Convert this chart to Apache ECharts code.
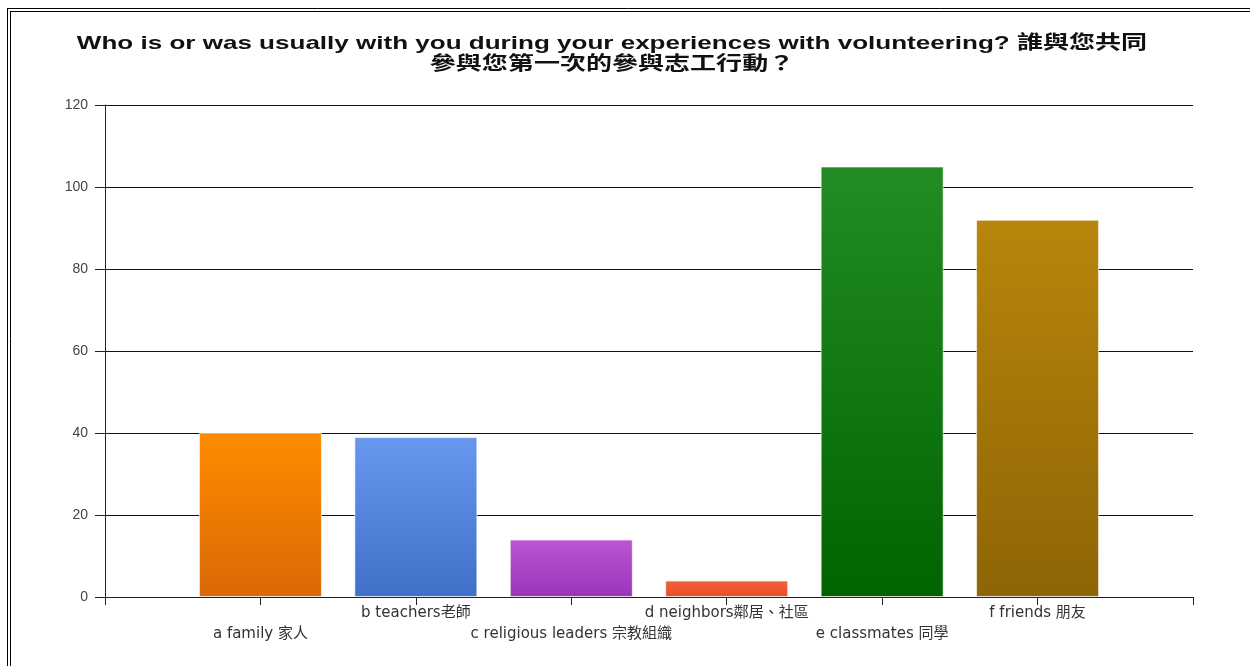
<!DOCTYPE html>
<html>
<head>
<meta charset="utf-8">
<script src="https://cdn.jsdelivr.net/npm/echarts@6/dist/echarts.min.js"></script>
<style>
  html, body { margin: 0; padding: 0; background: #fff; }
  #chart { width: 1250px; height: 666px; }
</style>
</head>
<body>
<div id="chart"></div>
<script>
// Who accompanied respondents when volunteering (counts)
const titleText = 'Who is or was usually with you during your experiences with volunteering? 誰與您共同\n參與您第一次的參與志工行動？';
const categories = [' ', 'a family 家人', 'b teachers老師', 'c religious leaders 宗教組織', 'd neighbors鄰居、社區', 'e classmates 同學', 'f friends 朋友', '  '];
const counts = [null, 40, 39, 14, 4, 105, 92, null];
const yTicks = [0, 20, 40, 60, 80, 100, 120];
// top / bottom gradient colours per bar
const topColors = [null, '#ff8c00', '#6797ee', '#bb55d4', '#f2613c', '#238c24', '#b8860b', null];
const bottomColors = [null, '#d96807', '#3f70c8', '#9a35b8', '#e84e2a', '#006400', '#8e6506', null];

const chart = echarts.init(document.getElementById('chart'));

const barData = counts.map((v, i) => {
  if (v === null) return null;
  return {
    value: v,
    itemStyle: {
      color: new echarts.graphic.LinearGradient(0, 0, 0, 1, [
        { offset: 0, color: topColors[i] },
        { offset: 1, color: bottomColors[i] }
      ]),
      borderColor: 'rgba(255,255,255,0.6)',
      borderWidth: 1
    }
  };
});

chart.setOption({
  backgroundColor: '#ffffff',
  animation: false,
  graphic: [
    // double frame along the top and left edges
    { type: 'line', shape: { x1: 7.5, y1: 8, x2: 7.5, y2: 666 }, style: { stroke: '#000', lineWidth: 1 } },
    { type: 'line', shape: { x1: 10.5, y1: 11, x2: 10.5, y2: 666 }, style: { stroke: '#000', lineWidth: 1 } },
    { type: 'line', shape: { x1: 7, y1: 8.5, x2: 1250, y2: 8.5 }, style: { stroke: '#000', lineWidth: 1 } },
    { type: 'line', shape: { x1: 10, y1: 11.5, x2: 1250, y2: 11.5 }, style: { stroke: '#000', lineWidth: 1 } },
    // wide title
    {
      type: 'text',
      x: 612,
      y: 33,
      scaleX: 1.37,
      scaleY: 1,
      style: {
        text: titleText,
        x: 0,
        y: 0,
        align: 'center',
        verticalAlign: 'top',
        fontFamily: '"Liberation Sans", Arial, "Noto Sans CJK TC", sans-serif',
        fontSize: 19,
        fontWeight: 'bold',
        lineHeight: 21,
        fill: '#111'
      }
    }
  ],
  grid: { left: 105, right: 57, top: 105, bottom: 69, containLabel: false },
  xAxis: {
    type: 'category',
    data: categories,
    boundaryGap: false,
    axisLine: { lineStyle: { color: '#222', width: 1 } },
    axisTick: { show: true, interval: 0, length: 8, lineStyle: { color: '#222' } },
    axisLabel: {
      interval: 0,
      margin: 6,
      color: '#333',
      fontSize: 15,
      lineHeight: 21,
      fontFamily: '"DejaVu Sans", "Noto Sans CJK TC", sans-serif',
      formatter: (v, i) => (i % 2 === 1 ? '\n' + v : v)
    },
    splitLine: { show: false }
  },
  yAxis: {
    type: 'value',
    min: yTicks[0],
    max: yTicks[yTicks.length - 1],
    interval: 20,
    axisLine: { show: true, lineStyle: { color: '#222', width: 1 } },
    axisTick: { show: true, length: 10, lineStyle: { color: '#222' } },
    axisLabel: {
      color: '#444',
      fontSize: 14,
      margin: 17,
      fontFamily: '"Liberation Sans", Arial, sans-serif'
    },
    splitLine: { show: true, lineStyle: { color: '#111', width: 1 } }
  },
  series: [{
    type: 'bar',
    data: barData,
    barWidth: 123
  }]
});
</script>
</body>
</html>
